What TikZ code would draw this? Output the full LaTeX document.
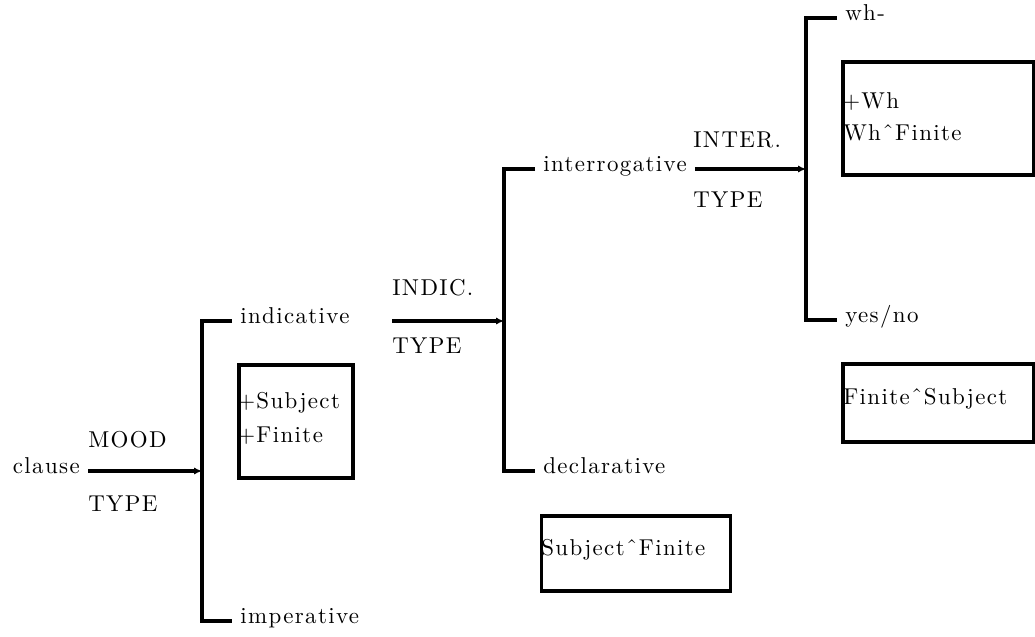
\documentclass[tikz,border=0pt]{standalone}
\usepackage{fontspec}
\setmainfont{lmroman10-regular}[Extension=.otf, LetterSpace=6]
\usetikzlibrary{arrows.meta}

\begin{document}
\begin{tikzpicture}[x=0.75pt, y=-0.75pt,
  font=\fontsize{17.2}{20}\selectfont,
  link/.style={line width=2.4pt},
  feed/.style={line width=2.4pt, -{Latex[length=6pt,width=5.5pt]}},
  term/.style={inner xsep=6pt, inner ysep=0pt, text height=1ex, text depth=0pt},
  tag/.style={inner sep=0pt, anchor=base west},
  frame/.style={draw, line width=2.4pt, inner sep=0pt},
]
\useasboundingbox (0,0) rectangle (1035,636);

% ---- MOOD TYPE system ----
\coordinate (f1) at (202,471);
\node[term, anchor=east] (clause) at (88,471) {clause};
\node[term, anchor=west] (ind) at (232,321) {indicative};
\node[term, anchor=west] (imp) at (232,621) {imperative};
\draw[link] (ind.west) -| (f1) |- (imp.west);
\draw[feed] (clause.east) -- (f1);
\node[tag] (mood) at (88,447) {MOOD};
\node[tag] (type1) at (88,511) {TYPE};

\node[frame, minimum width=85.5pt, minimum height=84.75pt] (b1) at (296,421.5) {};
\node[tag] (b1a) at (237,408) {+Subject};
\node[tag] (b1b) at (237,442) {+Finite};

% ---- INDICATIVE TYPE system ----
\coordinate (f2) at (504,321);
\coordinate (indout) at (392,321);
\node[term, anchor=west] (inter) at (535,169) {interrogative};
\node[term, anchor=west] (decl) at (535,471) {declarative};
\draw[link] (inter.west) -| (f2) |- (decl.west);
\draw[feed] (indout) -- (f2);
\node[tag] (indic) at (392,295) {INDIC.};
\node[tag] (type2) at (392,353) {TYPE};

\node[frame, minimum width=141.75pt, minimum height=56.25pt] (b2) at (636.2,553.5) {};
\node[tag] (b2a) at (541,555) {SubjectˆFinite};

% ---- INTERROGATIVE TYPE system ----
\coordinate (f3) at (806,169);
\node[term, anchor=west] (wh) at (837,18) {wh-};
\node[term, anchor=west] (yn) at (837,320) {yes/no};
\draw[link] (wh.west) -| (f3) |- (yn.west);
\draw[feed] (inter.east) -- (f3);
\node[tag] (interl) at (693,147) {INTER.};
\node[tag] (type3) at (693,207) {TYPE};

\node[frame, minimum width=142.9pt, minimum height=84.75pt] (b3) at (938.25,118.5) {};
\node[tag] (b3a) at (842,108) {+Wh};
\node[tag] (b3b) at (843,140) {WhˆFinite};

\node[frame, minimum width=142.9pt, minimum height=58.5pt] (b4) at (938.25,403) {};
\node[tag] (b4a) at (843,404) {FiniteˆSubject};
\end{tikzpicture}
\end{document}
